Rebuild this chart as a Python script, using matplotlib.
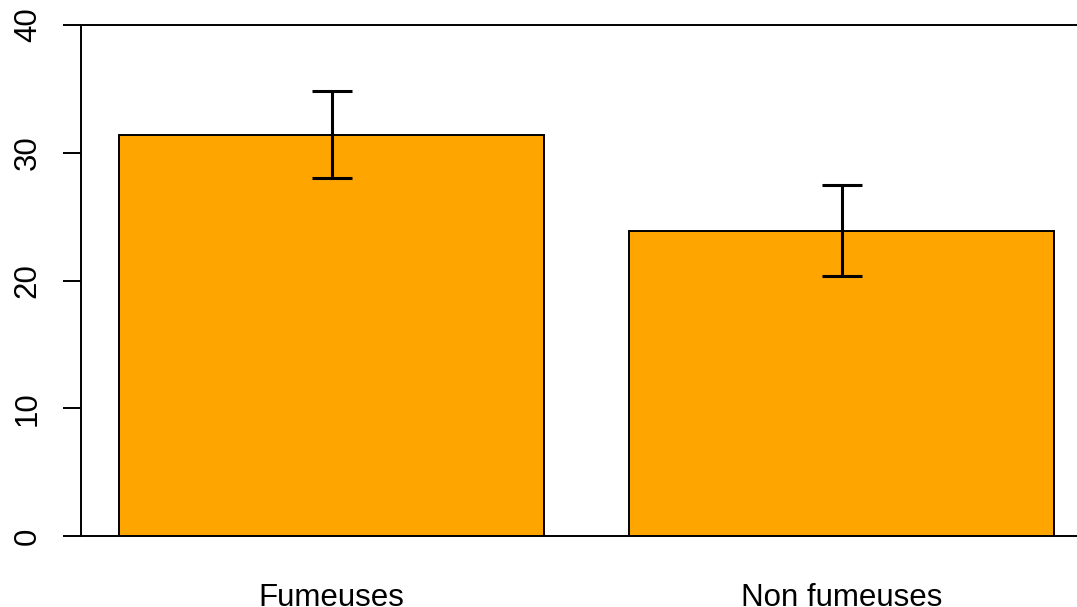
import matplotlib.pyplot as plt

groupes = ['Fumeuses', 'Non fumeuses']
moyennes = [31.4, 23.9]
erreurs = [3.4, 3.55]
positions = [0.7, 1.9]
yticks = [0, 10, 20, 30, 40]

plt.rcParams['font.family'] = ['Liberation Sans', 'DejaVu Sans']

fig = plt.figure(figsize=(10.77, 6.07), dpi=100)
W, H = 1077, 607
ax = fig.add_axes([81 / W, 1 - 536 / H, (W - 81) / W, (536 - 25) / H])

ax.bar(positions, moyennes, width=1.0, color='#FFA500', edgecolor='black', linewidth=1.4, zorder=2)
ax.errorbar(positions, moyennes, yerr=erreurs, fmt='none', ecolor='black',
            elinewidth=2.2, capsize=14.5, capthick=2.2, zorder=3)

ax.set_xlim(0.1106, 2.454)
ax.set_ylim(0, 40)

for s in ['top', 'right', 'bottom']:
    ax.spines[s].set_visible(False)
ax.spines['left'].set_linewidth(1.4)

# lignes horizontales en 0 et 40
for h in [0, 40]:
    ax.axhline(h, color='black', linewidth=1.4, zorder=1, clip_on=False)

ax.set_yticks(yticks)
ax.set_yticklabels([str(v) for v in yticks], rotation=90, va='center', fontsize=22.5)
ax.tick_params(axis='y', length=13, width=1.4, pad=14.5)

ax.set_xticks(positions)
ax.set_xticklabels(groupes, fontsize=22.5)
ax.tick_params(axis='x', length=0, pad=33.5)

fig.savefig('out.png', dpi=100)
